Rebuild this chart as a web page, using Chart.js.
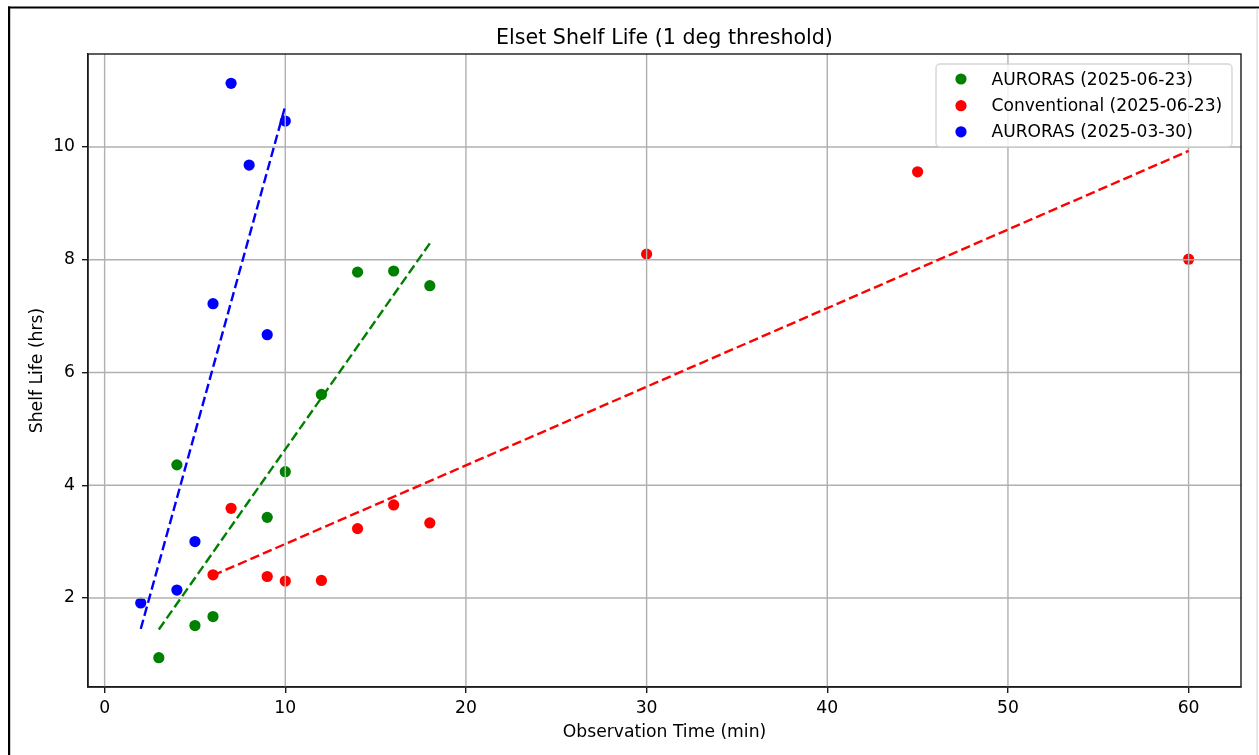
<!DOCTYPE html>
<html>
<head>
<meta charset="utf-8">
<script src="https://cdn.jsdelivr.net/npm/chart.js@4.4.1/dist/chart.umd.min.js"></script>
<style>
  html, body { margin: 0; padding: 0; background: #fff; }
  #wrap { width: 1259px; height: 755px; position: relative; }
  canvas { display: block; }
</style>
</head>
<body>
<div id="wrap"><canvas id="c" width="1259" height="755"></canvas></div>
<script>
// ---- data ----
const chartTitle = 'Elset Shelf Life (1 deg threshold)';
const xAxisTitle = 'Observation Time (min)';
const yAxisTitle = 'Shelf Life (hrs)';

const seriesLabels = ['AURORAS (2025-06-23)', 'Conventional (2025-06-23)', 'AURORAS (2025-03-30)'];

const greenX = [3, 4, 5, 6, 9, 10, 12, 14, 16, 18];
const greenY = [0.94, 4.36, 1.51, 1.67, 3.43, 4.24, 5.61, 7.78, 7.80, 7.54];

const redX = [6, 7, 9, 10, 12, 14, 16, 18, 30, 45, 60];
const redY = [2.41, 3.59, 2.38, 2.30, 2.31, 3.23, 3.65, 3.33, 8.10, 9.56, 8.01];

const blueX = [2, 4, 5, 6, 7, 8, 9, 10];
const blueY = [1.91, 2.14, 3.00, 7.22, 11.13, 9.68, 6.67, 10.46];

// dashed trend lines (end points)
const greenFitX = [3, 18];
const greenFitY = [1.44, 8.29];
const redFitX = [6, 60];
const redFitY = [2.40, 9.93];
const blueFitX = [2, 10];
const blueFitY = [1.45, 10.73];

const xTicks = [0, 10, 20, 30, 40, 50, 60];
const yTicks = [2, 4, 6, 8, 10];

// ---- build ----
const FONT = "'DejaVu Sans', 'Liberation Sans', sans-serif";
const pts = (xs, ys) => xs.map((x, i) => ({ x: x, y: ys[i] }));

function scatterSet(label, xs, ys, color) {
  return {
    label: label, data: pts(xs, ys), showLine: false,
    pointRadius: 5.6, pointBackgroundColor: color, pointBorderWidth: 0,
    pointBorderColor: color, order: 2, isSeries: true
  };
}
function fitSet(xs, ys, color) {
  return {
    label: '', data: pts(xs, ys), showLine: true, pointRadius: 0,
    borderColor: color, borderWidth: 2.4, borderDash: [9.5, 4.1],
    fill: false, order: 1, isSeries: false
  };
}

const datasets = [
  scatterSet(seriesLabels[0], greenX, greenY, '#008000'),
  scatterSet(seriesLabels[1], redX, redY, '#ff0000'),
  scatterSet(seriesLabels[2], blueX, blueY, '#0000ff'),
  fitSet(greenFitX, greenFitY, '#008000'),
  fitSet(redFitX, redFitY, '#ff0000'),
  fitSet(blueFitX, blueFitY, '#0000ff')
];

let gridDrawn = false;
const decor = {
  id: 'decor',
  beforeDraw(chart) {
    const ctx = chart.ctx;
    gridDrawn = false;
    ctx.save();
    ctx.fillStyle = '#fff';
    ctx.fillRect(0, 0, chart.width, chart.height);
    // outer frame of the screenshot
    ctx.fillStyle = '#000';
    ctx.fillRect(8, 6.5, chart.width - 8, 2);
    ctx.fillRect(8, 6.5, 2.2, chart.height);
    ctx.fillStyle = '#d0d0d0';
    ctx.fillRect(1256.6, 8.5, 1, chart.height);
    ctx.restore();
  },
  beforeDatasetDraw(chart, args) {
    if (gridDrawn) return;
    const ds = chart.data.datasets[args.index];
    if (ds.isSeries) return;
    gridDrawn = true;
    const ctx = chart.ctx, a = chart.chartArea;
    const xs = chart.scales.x, ys = chart.scales.y;
    ctx.save();
    ctx.strokeStyle = '#b0b0b0';
    ctx.lineWidth = 1.4;
    xs.ticks.forEach(t => {
      const px = xs.getPixelForValue(t.value);
      ctx.beginPath(); ctx.moveTo(px, a.top); ctx.lineTo(px, a.bottom); ctx.stroke();
    });
    ys.ticks.forEach(t => {
      const py = ys.getPixelForValue(t.value);
      ctx.beginPath(); ctx.moveTo(a.left, py); ctx.lineTo(a.right, py); ctx.stroke();
    });
    ctx.restore();
  },
  afterDraw(chart) {
    const ctx = chart.ctx, a = chart.chartArea;
    ctx.save();
    // spines
    ctx.strokeStyle = '#1a1a1a';
    ctx.lineWidth = 1.4;
    ctx.strokeRect(a.left, a.top, a.right - a.left, a.bottom - a.top);
    // title
    const cx = (a.left + a.right) / 2;
    ctx.fillStyle = '#000';
    ctx.textAlign = 'center';
    ctx.textBaseline = 'alphabetic';
    ctx.font = '20.6px ' + FONT;
    ctx.fillText(chartTitle, cx, 44.4);
    // axis titles
    ctx.font = '17.2px ' + FONT;
    ctx.fillText(xAxisTitle, cx, 737.3);
    ctx.save();
    ctx.translate(41.6, (a.top + a.bottom) / 2);
    ctx.rotate(-Math.PI / 2);
    ctx.fillText(yAxisTitle, 0, 0);
    ctx.restore();
    // legend
    const lx = 936, ly = 64, lw = 296, lh = 83, r = 4;
    ctx.beginPath();
    ctx.roundRect(lx, ly, lw, lh, r);
    ctx.fillStyle = 'rgba(255,255,255,0.8)';
    ctx.fill();
    ctx.strokeStyle = 'rgba(204,204,204,0.8)';
    ctx.lineWidth = 1.4;
    ctx.stroke();
    const rows = [79, 105.7, 131.8];
    const series = chart.data.datasets.filter(d => d.isSeries);
    ctx.textAlign = 'left';
    ctx.font = '17.1px ' + FONT;
    series.forEach((d, i) => {
      ctx.beginPath();
      ctx.arc(961, rows[i], 5.6, 0, Math.PI * 2);
      ctx.fillStyle = d.pointBackgroundColor;
      ctx.fill();
      ctx.fillStyle = '#000';
      ctx.fillText(d.label, 991.5, rows[i] + 5.5);
    });
    ctx.restore();
  }
};

new Chart(document.getElementById('c'), {
  type: 'scatter',
  data: { datasets: datasets },
  options: {
    responsive: false,
    devicePixelRatio: 1,
    animation: false,
    events: [],
    layout: { padding: { top: 54, right: 18, left: 0, bottom: 0 } },
    plugins: { legend: { display: false }, title: { display: false }, tooltip: { enabled: false } },
    scales: {
      x: {
        type: 'linear', position: 'bottom', min: -0.92, max: 62.9,
        afterBuildTicks: s => { s.ticks = xTicks.map(v => ({ value: v })); },
        afterFit: s => { s.height = 68; },
        grid: { drawOnChartArea: false, drawTicks: true, tickLength: 6, tickColor: '#1a1a1a', tickWidth: 1.4, lineWidth: 1.4 },
        border: { display: true, color: '#1a1a1a', width: 1.4 },
        ticks: { color: '#000', padding: 5, font: { family: FONT, size: 17.2 }, maxRotation: 0, autoSkip: false }
      },
      y: {
        type: 'linear', position: 'left', min: 0.42, max: 11.65,
        afterBuildTicks: s => { s.ticks = yTicks.map(v => ({ value: v })); },
        afterFit: s => { s.width = 88; },
        grid: { drawOnChartArea: false, drawTicks: true, tickLength: 6, tickColor: '#1a1a1a', tickWidth: 1.4, lineWidth: 1.4 },
        border: { display: true, color: '#1a1a1a', width: 1.4 },
        ticks: { color: '#000', padding: 7, font: { family: FONT, size: 17.2 }, autoSkip: false }
      }
    }
  },
  plugins: [decor]
});
</script>
</body>
</html>
